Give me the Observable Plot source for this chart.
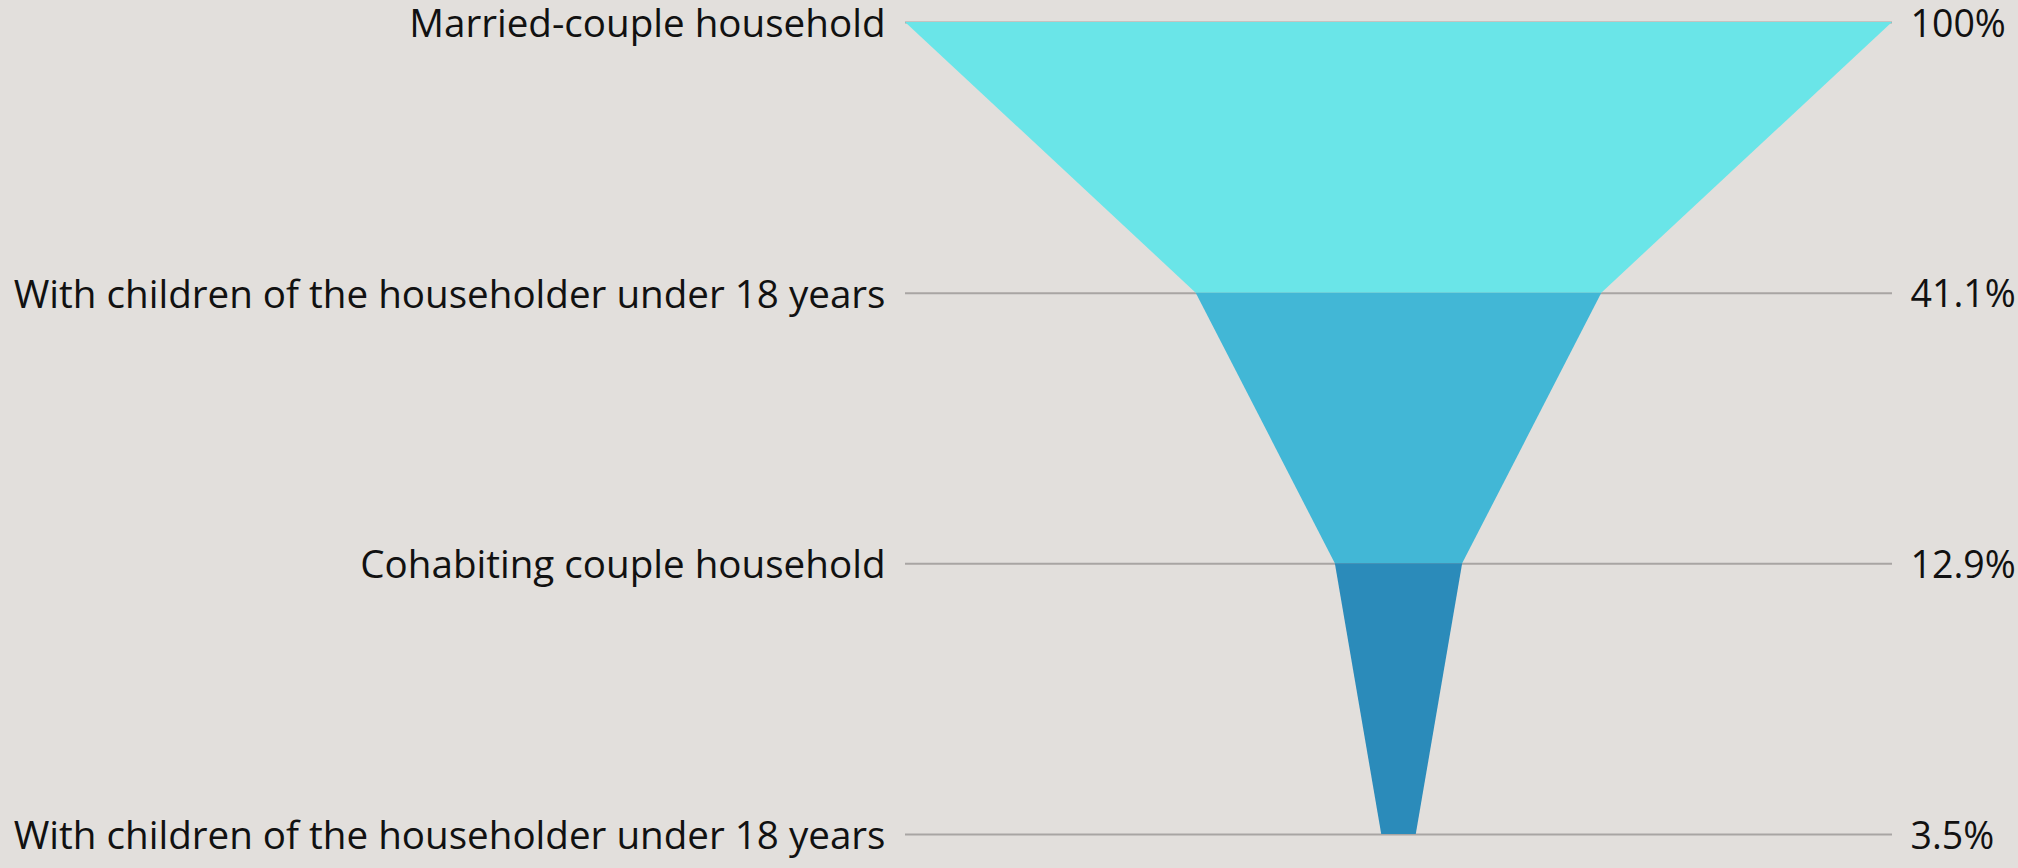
<!DOCTYPE html>
<html>
<head>
<meta charset="utf-8">
<script src="https://cdn.jsdelivr.net/npm/d3@7"></script>
<script src="https://cdn.jsdelivr.net/npm/@observablehq/plot@0.6"></script>
<style>
  html, body { margin: 0; padding: 0; background: #e2dfdc; }
  #chart svg { display: block; }
</style>
</head>
<body>
<div id="chart"></div>
<script>
const stages = [
  "Married-couple household",
  "With children of the householder under 18 years",
  "Cohabiting couple household",
  "With children of the householder under 18 years"
];
const percents = [100, 41.1, 12.9, 3.5];
const segmentColors = ["#6ae5e8", "#42b7d6", "#2b8bba"];

const levels = stages.map((label, i) => ({i, label, value: percents[i], pct: percents[i] + "%"}));

// funnel segment rows: each segment spans level i to level i+1
const segRows = [];
for (let s = 0; s < percents.length - 1; s++) {
  for (const k of [s, s + 1]) {
    segRows.push({seg: s, i: k, x1: -percents[k] / 2, x2: percents[k] / 2});
  }
}

const chart = Plot.plot({
  width: 2018,
  height: 868,
  margin: 0,
  style: {background: "#e2dfdc", fontFamily: "'Open Sans', sans-serif", color: "#111"},
  x: {domain: [-50, 50], range: [905, 1892], axis: null},
  y: {domain: [0, percents.length - 1], range: [22, 834], axis: null},
  color: {domain: [0, 1, 2], range: segmentColors, type: "ordinal"},
  marks: [
    Plot.ruleY(levels, {y: "i", x1: -50, x2: 50, stroke: "#a8a5a3", strokeWidth: 2}),
    Plot.areaX(segRows, {y: "i", x1: "x1", x2: "x2", z: "seg", fill: "seg", fillOpacity: 1, curve: "linear"}),
    Plot.text(levels, {y: "i", x: -50, text: "label", textAnchor: "end", dx: -20, dy: 2, fontSize: 38.6, fill: "#111"}),
    Plot.text(levels, {y: "i", x: 50, text: "pct", textAnchor: "start", dx: 18, dy: 2, fontSize: 37.5, fill: "#111"})
  ]
});
document.getElementById("chart").appendChild(chart);
</script>
</body>
</html>
